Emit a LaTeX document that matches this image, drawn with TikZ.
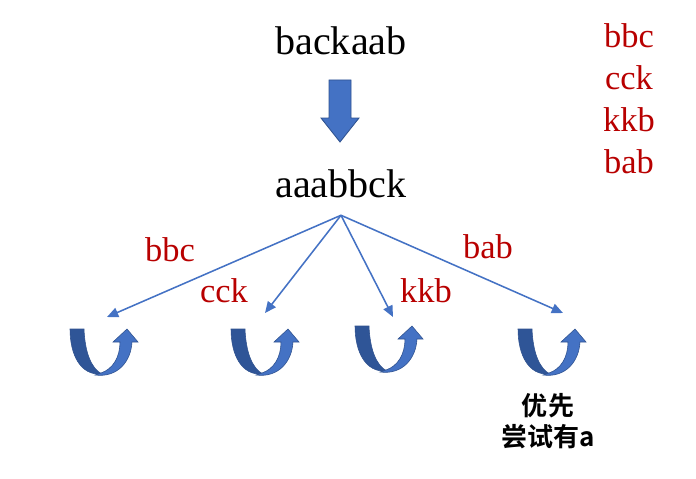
\documentclass[tikz,border=0pt]{standalone}
\usepackage{fontspec}
\setmainfont{Liberation Serif}
\newfontfamily\cjk{Noto Sans CJK SC}[BoldFont={Noto Sans CJK SC Bold}]
\usetikzlibrary{arrows.meta}
\definecolor{redtext}{RGB}{184,0,0}
\definecolor{lightblue}{RGB}{68,114,196}
\definecolor{darkblue}{RGB}{47,85,151}
\definecolor{edgeblue}{RGB}{47,82,143}

\tikzset{
 word/.style={font=\fontsize{28.5}{30}\selectfont, inner sep=0pt},
 pattern/.style={font=\fontsize{24.5}{26}\selectfont, text=redtext, inner sep=0pt},
 branch/.style={draw=lightblue, line width=1.1pt, -{Triangle[length=8pt,width=7pt]}},
 uturn/.pic={
  \fill[darkblue, draw=edgeblue, line width=0.4pt] (0,0) -- (14,0) .. controls (15,25) and (22,40) .. (32,45) .. controls (10,47) and (0,25) .. (0,0) -- cycle;
  \fill[lightblue, draw=edgeblue, line width=0.4pt] (25,46) .. controls (48,49) and (61,32) .. (62,13) -- (68,13) -- (57,0) -- (43,13) -- (50,13) .. controls (50,28) and (43,40) .. (31,44) -- cycle;
 }
}

\begin{document}
\begin{tikzpicture}[x=0.025cm, y=-0.025cm]
\useasboundingbox (0,0) rectangle (696,479);

\node[word] (b) at (341,41) {backaab};
\node[word, inner ysep=12pt] (a) at (341,184) {aaabbck};

\fill[lightblue, draw=edgeblue, line width=0.6pt] (329,80) -- (351,80) -- (351,118) -- (359,118) -- (340,142) -- (321,118) -- (329,118) -- cycle;

\foreach \t/\y in {bbc/36, cck/78, kkb/120, bab/162}
\node[pattern] (r-\t) at (629,\y) {\t};

\foreach \i/\x/\y in {1/70/329, 2/231/329, 3/355/326, 4/518/329}
\pic at (\x,\y) {uturn};

\coordinate (t1) at (107,317);
\coordinate (t2) at (265,313);
\coordinate (t3) at (393,317);
\coordinate (t4) at (563,313);
\foreach \i in {1,...,4}
\draw[branch] (a.south) -- (t\i);

\node[pattern] (l-bbc) at (170,250) {bbc};
\node[pattern] (l-cck) at (224,291) {cck};
\node[pattern] (l-kkb) at (426,291) {kkb};
\node[pattern] (l-bab) at (488,247) {bab};

\node[font=\cjk\bfseries\fontsize{18.5}{22}\selectfont, align=center, inner sep=0pt] (hint) at (548,421) {优先\\尝试有a};

\end{tikzpicture}
\end{document}
